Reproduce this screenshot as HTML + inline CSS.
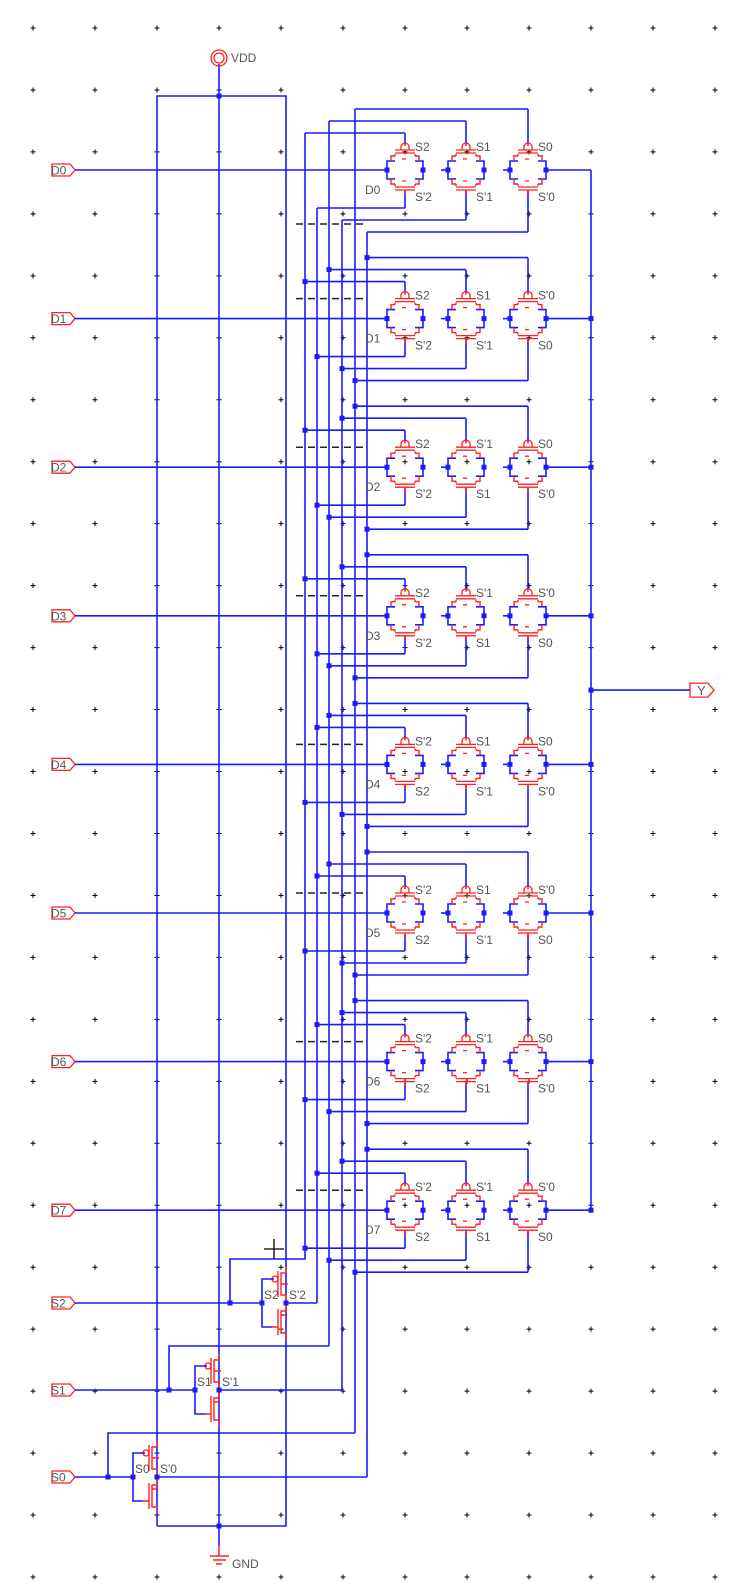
<!DOCTYPE html>
<html><head><meta charset="utf-8">
<style>
html,body{margin:0;padding:0;background:#fff;}
svg{display:block;}
text{font-family:"Liberation Sans",sans-serif;font-size:12px;fill:#555;}
</style></head>
<body>
<svg id="sch" width="736" height="1594" viewBox="0 0 736 1594" xmlns="http://www.w3.org/2000/svg"></svg>
<script>
const rows = ["D0","D1","D2","D3","D4","D5","D6","D7"];
const lineX = {"S2":305,"S'2":317,"S1":329,"S'1":342,"S0":355,"S'0":367};
const cellX = [405,466,528];
const rowY0 = 170, rowStep = 148.6;
const B="#1a1aff", R="#ff2020";
const svg=document.getElementById('sch');
const NS="http://www.w3.org/2000/svg";
function el(tag,attrs,parent){const e=document.createElementNS(NS,tag);for(const k in attrs)e.setAttribute(k,attrs[k]);(parent||svg).appendChild(e);return e;}
function line(x1,y1,x2,y2,c,w){return el('line',{x1,y1,x2,y2,stroke:c||B,'stroke-width':w||1.6});}
function poly(pts,c,extra){return el('polyline',Object.assign({points:pts,fill:'none',stroke:c||B,'stroke-width':1.6},extra||{}));}
function dot(x,y){return el('rect',{x:x-2.5,y:y-2.5,width:5,height:5,fill:B});}
function txt(x,y,s){const t=el('text',{x,y});t.textContent=s;return t;}

// grid
const grid=el('g',{});


for(let i=0;i<12;i++)for(let j=0;j<26;j++){const x=33+62*i,y=28+61.96*j;
 el('path',{d:`M${x-2.5} ${y}H${x+2.5}M${x} ${y-2.5}V${y+2.5}`,stroke:'#000','stroke-width':1},grid);}

// power rails
poly("157,1526 157,96 286,96 286,1526 157,1526");
line(219,64,219,1526);
dot(219,96);dot(219,1526);
const vdd=el('g',{});
el('circle',{cx:219,cy:58,r:8,fill:'none',stroke:R,'stroke-width':1.3},vdd);
el('circle',{cx:219,cy:58,r:5,fill:'none',stroke:R,'stroke-width':1.3},vdd);
const vt=txt(231,62,"VDD");vdd.appendChild(vt);
const gnd=el('g',{});
line(219,1526,219,1546);
el('path',{d:"M210 1556H229M213 1560H226M216 1564H222M219 1546V1556",stroke:R,'stroke-width':1.5},gnd);
const gt=txt(232,1568,"GND");gnd.appendChild(gt);

function inputPin(label,y,name){
 const g=el('g',{});
 el('path',{d:`M52 ${y-6}H70L75 ${y}L70 ${y+6}H52Z`,fill:'#fff',stroke:R,'stroke-width':1.3},g);
 const t=el('text',{x:51,y:y+4.5,style:'fill:#555;font-size:12px'},g);t.textContent=label;
}

const lineTop={}, lineBot={"S2":1248,"S'2":1303,"S1":1346,"S'1":1390,"S0":1433,"S'0":1477};
const topOff=[-37,-49,-61], botOff=[38,50,62];
rows.forEach((r,k)=>{
 const y=rowY0+rowStep*k;
 const bits=[(k>>2)&1,(k>>1)&1,k&1];
 [2,1,0].forEach((b,i)=>{
  const top=bits[i]?`S'${b}`:`S${b}`, bot=bits[i]?`S${b}`:`S'${b}`;
  [[top,y+topOff[i]],[bot,y+botOff[i]]].forEach(([s,yy])=>{lineTop[s]=Math.min(lineTop[s]??9999,yy);});
 });
});
for(const s in lineX){const l=line(lineX[s],lineTop[s],lineX[s],lineBot[s]);}

// output bus
line(591,rowY0,591,rowY0+rowStep*7);
const yOut=(rowY0+rowY0+rowStep*7)/2;
line(591,yOut,690,yOut);dot(591,yOut);
const yp=el('g',{});
el('path',{d:`M690 ${yOut-7}H708L714 ${yOut}L708 ${yOut+7}H690Z`,fill:'#fff',stroke:R,'stroke-width':1.3},yp);
const ytx=el('text',{x:697,y:yOut+5,style:'fill:#555;font-size:13px'},yp);ytx.textContent="Y";

function tgate(cx,y,topWireY,botWireY,topLbl,botLbl){
 const g=el('g',{});
 
 
 el('path',{d:`M${cx-18} ${y}V${y-9}H${cx-10}M${cx+10} ${y-9}H${cx+18}V${y+9}H${cx+10}M${cx-10} ${y+9}H${cx-18}V${y}`,fill:'none',stroke:B,'stroke-width':1.6},g);
 el('path',{d:`M${cx-14} ${y-9}V${y-14}H${cx-10}M${cx+10} ${y-14}H${cx+14}V${y-9}M${cx-14} ${y+9}V${y+14}H${cx-10}M${cx+10} ${y+14}H${cx+14}V${y+9}M${cx-10} ${y-14}V${y-16}M${cx+10} ${y-14}V${y-16}M${cx-10} ${y+14}V${y+16}M${cx+10} ${y+14}V${y+16}`,fill:'none',stroke:R,'stroke-width':1.4},g);
 el('path',{d:`M${cx-10} ${y-17}H${cx+10}M${cx-10} ${y-20}H${cx+10}M${cx-10} ${y+17}H${cx+10}M${cx-10} ${y+20}H${cx+10}M${cx-3} ${y-11}H${cx+1}M${cx-3} ${y+11}H${cx+1}`,stroke:R,'stroke-width':1.3},g);
 el('path',{d:`M${cx-4} ${y-20}V${y-23}a4 4 0 0 1 8 0V${y-20}`,fill:'none',stroke:R,'stroke-width':1.3},g);
 el('path',{d:`M${cx} ${y-27}V${topWireY}M${cx} ${y+21}V${botWireY}`,stroke:B,'stroke-width':1.6},g);
 el('path',{d:`M${cx} ${y-27}V${y-24}M${cx} ${y+20}V${y+25}`,stroke:R,'stroke-width':1.6},g);
 dot(cx-18,y);dot(cx+18,y);
 txt(cx+10,y-19,topLbl);txt(cx+10,y+31,botLbl);
}

rows.forEach((r,k)=>{
 const y=rowY0+rowStep*k;
 inputPin(r,y,'input-'+r.toLowerCase());
 line(75,y,387,y);
 txt(365,y+24,r);
 if(k>0){const d=line(296,y-20,367,y-20,'#222',1.5);d.setAttribute('stroke-dasharray','7 5');}
 line(441,y,448,y);line(503,y,510,y);line(546,y,591,y);
 if(k>0)dot(591,y);
 const bits=[(k>>2)&1,(k>>1)&1,k&1];
 [2,1,0].forEach((b,i)=>{
  const top=bits[i]?`S'${b}`:`S${b}`, bot=bits[i]?`S${b}`:`S'${b}`;
  const cx=cellX[i], ty=y+topOff[i], by=y+botOff[i];
  line(lineX[top],ty,cx,ty);line(lineX[bot],by,cx,by);
  if(ty>lineTop[top])dot(lineX[top],ty);
  if(by>lineTop[bot])dot(lineX[bot],by);
  tgate(cx,y,ty,by,top,bot);
 });
});
const dx=line(296,rowY0+54,367,rowY0+54,'#222',1.5);dx.setAttribute('stroke-dasharray','7 5');

function inverter(rx,y,inName,outName,dotX,upY,selTrue,selComp){
 const g=el('g',{});
 
 
 inputPin(inName,y,'input-'+inName.toLowerCase());
 line(75,y,rx-24,y);
 dot(dotX,y);
 poly(`${dotX},${y} ${dotX},${upY} ${lineX[selTrue]},${upY} ${lineX[selTrue]},${lineBot[selTrue]}`);
 line(rx,y,lineX[selComp],y);dot(rx,y);dot(rx-24,y);
 poly(`${rx-12},${y-24} ${rx-24},${y-24} ${rx-24},${y+24} ${rx-14},${y+24}`);
 el('path',{d:`M${rx} ${y-36}V${y-30}H${rx-5}V${y-8}H${rx}V${y-2}M${rx-8} ${y-32}V${y-6}M${rx-5} ${y-19}H${rx+2}M${rx} ${y+2}V${y+8}H${rx-5}V${y+30}H${rx}V${y+36}M${rx-8} ${y+6}V${y+32}M${rx-14} ${y+24}H${rx-8}M${rx-5} ${y+12}H${rx+1}`,fill:'none',stroke:R,'stroke-width':1.4},g);
 el('circle',{cx:rx-11,cy:y-24,r:3,fill:'none',stroke:R,'stroke-width':1.3},g);
 txt(rx-22,y-4,inName);txt(rx+3,y-4,outName);
}
inverter(286,1303,"S2","S'2",230,1259,"S2","S'2");
inverter(219,1390,"S1","S'1",169,1346,"S1","S'1");
inverter(157,1477,"S0","S'0",108,1433,"S0","S'0");
el('path',{d:"M264 1249H284M274 1239V1259",stroke:'#000','stroke-width':1.3});
</script>
</body></html>
